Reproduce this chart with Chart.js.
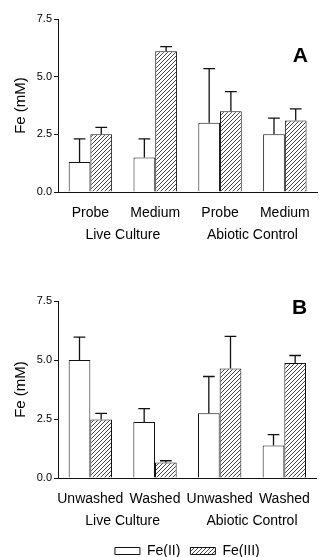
<!DOCTYPE html>
<html>
<head>
<meta charset="utf-8">
<script src="https://cdn.jsdelivr.net/npm/chart.js@4.4.1/dist/chart.umd.min.js"></script>
<style>
  html, body { margin: 0; background: #fff; overflow: hidden; }
  .panel { position: absolute; left: 0; width: 323px; }
  #panelA { top: 0; height: 245px; }
  #panelB { top: 290px; height: 278px; }
</style>
</head>
<body>
<div class="panel" id="panelA"><canvas id="chartA"></canvas></div>
<div class="panel" id="panelB"><canvas id="chartB"></canvas></div>
<script>
// panel A
const labelsA = ['Probe', 'Medium', 'Probe', 'Medium'];
const fe2A = [1.3, 1.5, 3.0, 2.5];
const fe2ErrA = [1.0, 0.8, 2.35, 0.7];
const fe3A = [2.5, 6.1, 3.5, 3.1];
const fe3ErrA = [0.3, 0.2, 0.85, 0.5];

// panel B
const labelsB = ['Unwashed', 'Washed', 'Unwashed', 'Washed'];
const fe2B = [5.0, 2.37, 2.74, 1.38];
const fe2ErrB = [0.97, 0.57, 1.56, 0.46];
const fe3B = [2.48, 0.66, 4.64, 4.87];
const fe3ErrB = [0.26, 0.07, 1.36, 0.32];

const groups = ['Live Culture', 'Abiotic Control'];
const yTicks = [0, 2.5, 5.0, 7.5];

const font = 'Liberation Sans, Arial, Helvetica, sans-serif';
const ink = '#111';

function hatch() {
    const s = 4;
    const c = document.createElement('canvas');
    c.width = s; c.height = s;
    const g = c.getContext('2d');
    g.fillStyle = '#fff';
    g.fillRect(0, 0, s, s);
    g.strokeStyle = '#444';
    g.lineWidth = 1;
    g.beginPath();
    g.moveTo(0, s); g.lineTo(s, 0);
    g.moveTo(-1, 1); g.lineTo(1, -1);
    g.moveTo(s - 1, s + 1); g.lineTo(s + 1, s - 1);
    g.stroke();
    return g.createPattern(c, 'repeat');
}

// error bars drawn on top of each bar (positive side only)
const errorBars = {
    id: 'errorBars',
    afterDatasetsDraw(chart) {
        const ctx = chart.ctx;
        const y = chart.scales.y;
        ctx.save();
        ctx.strokeStyle = ink;
        ctx.lineWidth = 1.3;
        chart.data.datasets.forEach((ds, i) => {
            chart.getDatasetMeta(i).data.forEach((bar, j) => {
                const top = y.getPixelForValue(ds.data[j] + ds.errors[j]);
                const cap = bar.width * 0.27;
                ctx.beginPath();
                ctx.moveTo(bar.x, bar.y);
                ctx.lineTo(bar.x, top);
                ctx.moveTo(bar.x - cap, top);
                ctx.lineTo(bar.x + cap, top);
                ctx.stroke();
            });
        });
        ctx.restore();
    }
};

const panelLetter = {
    id: 'panelLetter',
    afterDraw(chart, args, opts) {
        const ctx = chart.ctx;
        const a = chart.chartArea;
        ctx.save();
        ctx.fillStyle = '#000';
        ctx.font = 'bold 21px ' + font;
        ctx.textAlign = 'center';
        ctx.textBaseline = 'middle';
        ctx.fillText(opts.text, a.right - 17, a.top + opts.dy);
        ctx.restore();
    }
};

function makeChart(id, labels, fe2, fe2Err, fe3, fe3Err, letter, dy, padTop, withLegend, groupHeight) {
    const ctx = document.getElementById(id).getContext('2d');
    return new Chart(ctx, {
        type: 'bar',
        data: {
            labels: labels,
            datasets: [{
                label: 'Fe(II)',
                data: fe2,
                errors: fe2Err,
                backgroundColor: '#fff',
                borderColor: ink,
                borderWidth: 1
            }, {
                label: 'Fe(III)',
                data: fe3,
                errors: fe3Err,
                backgroundColor: hatch(),
                borderColor: ink,
                borderWidth: 1
            }]
        },
        options: {
            responsive: true,
            maintainAspectRatio: false,
            animation: false,
            categoryPercentage: 0.67,
            barPercentage: 1.0,
            layout: { padding: { top: padTop, right: 2, left: 0, bottom: 0 } },
            plugins: {
                legend: {
                    display: withLegend,
                    position: 'bottom',
                    fullSize: false,
                    labels: {
                        color: '#000',
                        font: { family: font, size: 14 },
                        boxWidth: 25,
                        boxHeight: 7,
                        padding: 10
                    }
                },
                tooltip: { enabled: false },
                panelLetter: { text: letter, dy: dy }
            },
            scales: {
                x: {
                    grid: { display: false, drawTicks: false },
                    border: { color: ink, width: 1 },
                    ticks: {
                        color: '#000', font: { family: font, size: 14 }, padding: 13,
                        maxRotation: 0, minRotation: 0, autoSkip: false
                    },
                    afterFit(s) { s.height = 31; }
                },
                group: {
                    type: 'category',
                    position: 'bottom',
                    weight: 1,
                    labels: groups,
                    offset: true,
                    grid: { display: false, drawTicks: false },
                    border: { display: false },
                    ticks: {
                        color: '#000', font: { family: font, size: 14 }, padding: 4,
                        maxRotation: 0, minRotation: 0, autoSkip: false
                    },
                    afterFit(s) { s.height = groupHeight; }
                },
                y: {
                    min: 0,
                    max: 7.5,
                    afterBuildTicks(s) { s.ticks = yTicks.map(v => ({ value: v })); },
                    grid: { drawOnChartArea: false, color: ink, tickLength: 4 },
                    border: { color: ink, width: 1 },
                    ticks: {
                        color: '#000',
                        font: { family: font, size: 11 },
                        padding: 2,
                        callback: v => Number(v).toFixed(1)
                    },
                    title: {
                        display: true,
                        text: 'Fe (mM)',
                        color: '#000',
                        font: { family: font, size: 15 },
                        padding: { top: 12, bottom: 0 }
                    },
                    afterFit(s) { s.width = 58; }
                }
            }
        },
        plugins: [errorBars, panelLetter]
    });
}

makeChart('chartA', labelsA, fe2A, fe2ErrA, fe3A, fe3ErrA, 'A', 37, 19, false, 22);
makeChart('chartB', labelsB, fe2B, fe2ErrB, fe3B, fe3ErrB, 'B', 7, 11, true, 25);
</script>
</body>
</html>
